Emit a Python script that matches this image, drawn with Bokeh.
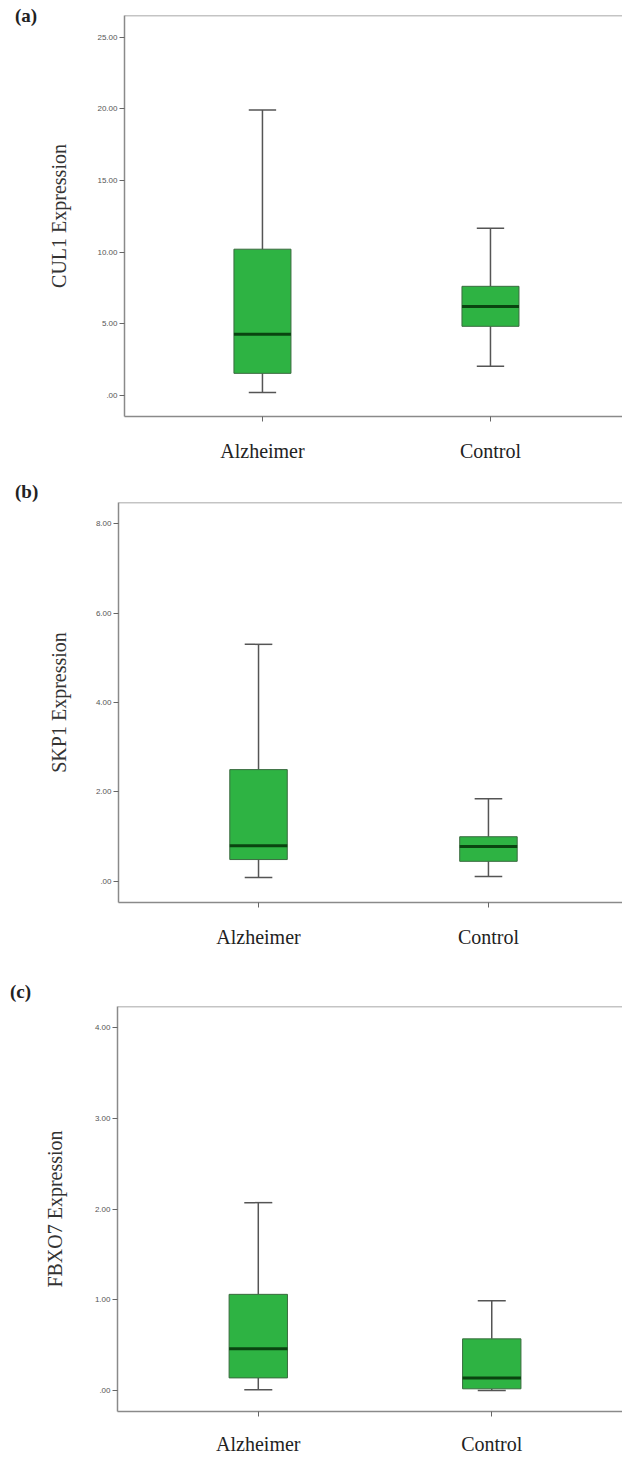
from bokeh.plotting import figure
from bokeh.layouts import column, row
from bokeh.models import Range1d, FixedTicker, CustomJSTickFormatter, Span, Div
from bokeh.embed import file_html
from bokeh.resources import INLINE

# ---------------- data ----------------
categories = ["Alzheimer", "Control"]

panel_tags = ["(a)", "(b)", "(c)"]
y_titles = ["CUL1 Expression", "SKP1 Expression", "FBXO7 Expression"]

# (a) CUL1
cul1_whisker_low = [0.2, 2.03]
cul1_q1 = [1.54, 4.82]
cul1_median = [4.26, 6.2]
cul1_q3 = [10.2, 7.61]
cul1_whisker_high = [19.9, 11.66]
cul1_ticks = [0, 5, 10, 15, 20, 25]

# (b) SKP1
skp1_whisker_low = [0.09, 0.11]
skp1_q1 = [0.49, 0.45]
skp1_median = [0.8, 0.78]
skp1_q3 = [2.5, 1.0]
skp1_whisker_high = [5.3, 1.85]
skp1_ticks = [0, 2, 4, 6, 8]

# (c) FBXO7
fbxo7_whisker_low = [0.01, 0.0]
fbxo7_q1 = [0.14, 0.02]
fbxo7_median = [0.46, 0.14]
fbxo7_q3 = [1.06, 0.57]
fbxo7_whisker_high = [2.07, 0.99]
fbxo7_ticks = [0, 1, 2, 3, 4]

# ---------------- styling ----------------
FRAME = "#8a8a8a"
GREEN = "#2eb343"
MEDIAN = "#0a4410"
WHISK = "#555555"
SERIF = "Liberation Serif"

BOX_W = 0.25
CAP_W = 0.12
TAG_W = 40
TOTAL_W = 622


def make_tag(tag, height, left, top):
    html = ('<div style="font-family: \'Liberation Serif\'; font-weight: bold; '
            'font-size: 19px; line-height: 22px; color: #222222; margin: 0; '
            f'padding: {top}px 0 0 {left}px;">{tag}</div>')
    return Div(text=html, width=TAG_W, height=height, margin=(0, 0, 0, 0))


def make_panel(tag, ytitle, lo, q1, med, q3, hi, ticks, yr, xr,
               height, b_left, b_top, b_bottom, tag_pos, ylab_standoff, xlab_standoff):
    p = figure(width=TOTAL_W - TAG_W, height=height, output_backend="svg",
               toolbar_location=None,
               x_range=Range1d(*xr), y_range=Range1d(*yr),
               min_border_left=b_left - TAG_W, min_border_right=0,
               min_border_top=b_top, min_border_bottom=b_bottom)
    p.outline_line_color = None
    p.xgrid.visible = False
    p.ygrid.visible = False

    x = [i + 0.5 for i in range(len(categories))]

    # whiskers
    p.segment(x0=x, y0=q3, x1=x, y1=hi, line_color=WHISK, line_width=1.5)
    p.segment(x0=x, y0=lo, x1=x, y1=q1, line_color=WHISK, line_width=1.5)
    # caps
    p.segment(x0=[v - CAP_W / 2 for v in x], y0=hi, x1=[v + CAP_W / 2 for v in x], y1=hi,
              line_color=WHISK, line_width=1.5)
    p.segment(x0=[v - CAP_W / 2 for v in x], y0=lo, x1=[v + CAP_W / 2 for v in x], y1=lo,
              line_color=WHISK, line_width=1.5)
    # boxes
    p.vbar(x=x, width=BOX_W, bottom=q1, top=q3, fill_color=GREEN,
           line_color="#3a6b3f", line_width=1)
    # medians
    p.segment(x0=[v - BOX_W / 2 for v in x], y0=med, x1=[v + BOX_W / 2 for v in x], y1=med,
              line_color=MEDIAN, line_width=3)

    # top frame line
    p.add_layout(Span(location=yr[1], dimension="width", line_color=FRAME, line_width=1.5))

    # axes
    for ax in (p.xaxis[0], p.yaxis[0]):
        ax.axis_line_color = FRAME
        ax.axis_line_width = 1.5
        ax.major_tick_line_color = "#666666"
        ax.major_tick_in = 0
        ax.major_tick_out = 5
        ax.minor_tick_line_color = None

    p.xaxis.ticker = FixedTicker(ticks=x)
    p.xaxis.formatter = CustomJSTickFormatter(args=dict(labels=categories),
                                              code="return labels[Math.round(tick - 0.5)];")
    p.xaxis.major_label_text_font = SERIF
    p.xaxis.major_label_text_font_size = "20px"
    p.xaxis.major_label_text_color = "#222222"
    p.xaxis.major_label_standoff = xlab_standoff

    p.yaxis.ticker = FixedTicker(ticks=ticks)
    p.yaxis.formatter = CustomJSTickFormatter(
        code="return tick == 0 ? '.00' : tick.toFixed(2);")
    p.yaxis.major_label_text_font = "Liberation Sans"
    p.yaxis.major_label_text_font_size = "8px"
    p.yaxis.major_label_text_color = "#555555"
    p.yaxis.major_label_standoff = 2
    p.yaxis.axis_label = ytitle
    p.yaxis.axis_label_text_font = SERIF
    p.yaxis.axis_label_text_font_size = "20px"
    p.yaxis.axis_label_text_font_style = "normal"
    p.yaxis.axis_label_text_color = "#333333"
    p.yaxis.axis_label_standoff = ylab_standoff

    t = make_tag(tag, height, tag_pos[0], tag_pos[1])
    return row(t, p, spacing=0)


pa = make_panel(panel_tags[0], y_titles[0], cul1_whisker_low, cul1_q1, cul1_median, cul1_q3,
                cul1_whisker_high, cul1_ticks, (-1.47, 26.5), (-0.105, 2.079),
                480, 124, 15, 64, (15, 5), 24, 18)
pb = make_panel(panel_tags[1], y_titles[1], skp1_whisker_low, skp1_q1, skp1_median, skp1_q3,
                skp1_whisker_high, skp1_ticks, (-0.47, 8.47), (-0.109, 2.083),
                480, 118, 22, 58, (15, 1), 23, 18)
pc = make_panel(panel_tags[2], y_titles[2], fbxo7_whisker_low, fbxo7_q1, fbxo7_median, fbxo7_q3,
                fbxo7_whisker_high, fbxo7_ticks, (-0.23, 4.23), (-0.103, 2.06),
                498, 116, 46, 47, (10, 21), 26, 16)

layout = column(pa, pb, pc, spacing=0)
open("out.html", "w").write(file_html(layout, INLINE))
